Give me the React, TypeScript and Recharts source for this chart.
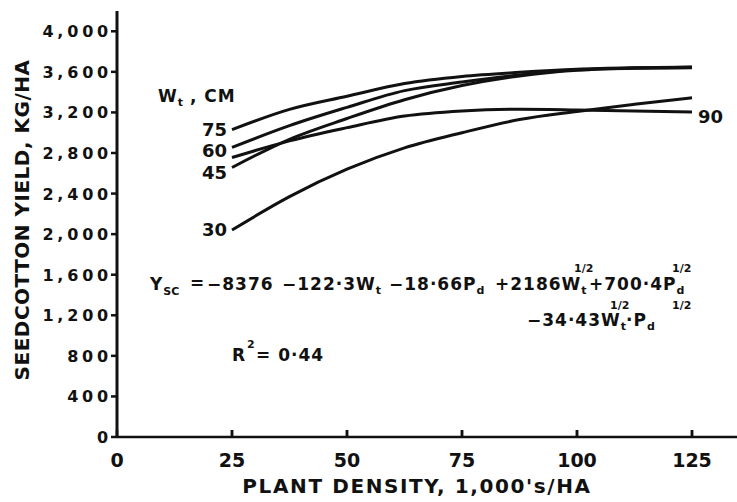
import React from 'react'
import { LineChart, Line, XAxis, YAxis } from 'recharts'

// plant density, 1,000's/ha
const densities = [25, 37.5, 50, 62.5, 75, 87.5, 100, 112.5, 125]

// seedcotton yield (kg/ha) per row width Wt (cm)
const yieldW30 = [2040, 2370, 2640, 2850, 3000, 3130, 3210, 3280, 3345]
const yieldW45 = [2657, 2935, 3140, 3325, 3465, 3560, 3615, 3635, 3640]
const yieldW60 = [2855, 3070, 3250, 3415, 3500, 3570, 3620, 3638, 3645]
const yieldW75 = [3030, 3230, 3360, 3485, 3555, 3595, 3625, 3640, 3648]
const yieldW90 = [2755, 2920, 3050, 3165, 3215, 3232, 3225, 3215, 3205]

const xTicks = [0, 25, 50, 75, 100, 125]
const topTicks = [25, 50, 75, 100, 125]
const yTicks = [0, 400, 800, 1200, 1600, 2000, 2400, 2800, 3200, 3600, 4000]

const data = densities.map((d, i) => ({
  density: d,
  w30: yieldW30[i],
  w45: yieldW45[i],
  w60: yieldW60[i],
  w75: yieldW75[i],
  w90: yieldW90[i],
}))

const INK = '#111'
const FONT = '"DejaVu Sans", sans-serif'

// y here sits on the axis line (tickSize -7 + tickMargin 7)
function BottomTick({ x, y, payload }: any) {
  return (
    <g>
      {payload.value !== 0 && <line x1={x} x2={x} y1={y} y2={y - 7} stroke={INK} strokeWidth={2.5} />}
      <text x={x} y={y + 30} textAnchor="middle" fill={INK} fontFamily={FONT} fontWeight={700} fontSize={19}>
        {payload.value}
      </text>
    </g>
  )
}

function LeftTick({ x, y, payload }: any) {
  return (
    <text x={x + 3} y={y + 6} textAnchor="end" fill={INK} fontFamily={FONT} fontWeight={700} fontSize={16} letterSpacing={3.8}>
      {Number(payload.value).toLocaleString('en-US')}
    </text>
  )
}

// label drawn at the first (or last) point of a curve
const curveLabel = (text: string, atEnd: boolean, dy: number) => (props: any) => {
  const { x, y, index } = props
  const want = atEnd ? densities.length - 1 : 0
  if (index !== want) return <g />
  return (
    <text
      x={atEnd ? x + 6 : x - 5}
      y={y + dy + 6}
      textAnchor={atEnd ? 'start' : 'end'}
      fill={INK}
      fontFamily={FONT}
      fontWeight={700}
      fontSize={18}
    >
      {text}
    </text>
  )
}

const sub = { fontSize: 11, letterSpacing: 0 }

export default function App() {
  return (
    <div style={{ position: 'fixed', left: 0, top: 0, width: 737, height: 502, overflow: 'hidden', background: '#fff' }}>
      <LineChart width={745} height={502} data={data} margin={{ top: 11, right: 7, bottom: 35, left: 0 }}>
        <XAxis
          dataKey="density"
          type="number"
          domain={[0, 135]}
          ticks={xTicks}
          height={30}
          tickSize={-7}
          tickMargin={7}
          tick={<BottomTick />}
          tickLine={{ stroke: INK, strokeWidth: 2.5 }}
          axisLine={{ stroke: INK, strokeWidth: 2.5 }}
        />
        <XAxis
          xAxisId="top"
          orientation="top"
          type="number"
          domain={[0, 135]}
          ticks={topTicks}
          height={0}
          mirror
          tickSize={6}
          tickFormatter={() => ''}
          tickLine={{ stroke: INK, strokeWidth: 2.5 }}
          axisLine={{ stroke: INK, strokeWidth: 2 }}
        />
        <YAxis
          type="number"
          domain={[0, 4200]}
          ticks={yTicks}
          width={117}
          tickSize={6}
          tickMargin={2}
          tick={<LeftTick />}
          tickLine={{ stroke: INK, strokeWidth: 2.5 }}
          axisLine={{ stroke: INK, strokeWidth: 3 }}
        />
        <YAxis
          yAxisId="right"
          orientation="right"
          type="number"
          domain={[0, 4200]}
          ticks={yTicks}
          width={0}
          mirror
          tickSize={4}
          tickFormatter={() => ''}
          tickLine={{ stroke: INK, strokeWidth: 2 }}
          axisLine={{ stroke: INK, strokeWidth: 2 }}
        />
        <Line dataKey="w30" type="monotone" stroke={INK} strokeWidth={3} dot={false} isAnimationActive={false} label={curveLabel('30', false, 0)} />
        <Line dataKey="w45" type="monotone" stroke={INK} strokeWidth={3} dot={false} isAnimationActive={false} label={curveLabel('45', false, 5)} />
        <Line dataKey="w60" type="monotone" stroke={INK} strokeWidth={3} dot={false} isAnimationActive={false} label={curveLabel('60', false, 4)} />
        <Line dataKey="w75" type="monotone" stroke={INK} strokeWidth={3} dot={false} isAnimationActive={false} label={curveLabel('75', false, 0)} />
        <Line dataKey="w90" type="monotone" stroke={INK} strokeWidth={3} dot={false} isAnimationActive={false} label={curveLabel('90', true, 5)} />
      </LineChart>

      <svg width={737} height={502} style={{ position: 'absolute', left: 0, top: 0, pointerEvents: 'none' }}>
        <g fill={INK} fontFamily={FONT} fontWeight={700}>
          <text transform="translate(29,220) rotate(-90)" textAnchor="middle" fontSize={20} letterSpacing={0.5}>
            SEEDCOTTON YIELD, KG/HA
          </text>
          <text x={417} y={493} textAnchor="middle" fontSize={20} letterSpacing={1.6}>
            PLANT DENSITY, 1,000's/HA
          </text>

          <text x={158} y={102} fontSize={17} letterSpacing={1}>
            W<tspan dy={4} style={sub}>t</tspan>
            <tspan dy={-4}> , CM</tspan>
          </text>

          <g fontSize={17} letterSpacing={1}>
            <text x={150} y={290}>Y<tspan dy={5} style={sub}>SC</tspan></text>
            <text x={190} y={289}>=</text>
            <text x={207} y={290}>−8376</text>
            <text x={282} y={290}>−122·3W<tspan dy={4} style={sub}>t</tspan></text>
            <text x={389} y={290}>−18·66P<tspan dy={4} style={sub}>d</tspan></text>
            <text x={495} y={290}>+2186W<tspan dy={4} style={sub}>t</tspan></text>
            <text x={574} y={272} style={sub}>1/2</text>
            <text x={589} y={290}>+700·4P<tspan dy={4} style={sub}>d</tspan></text>
            <text x={672} y={272} style={sub}>1/2</text>

            <text x={527} y={326}>−34·43W<tspan dy={4} style={sub}>t</tspan></text>
            <text x={610} y={309} style={sub}>1/2</text>
            <text x={626} y={326}>·P<tspan dy={4} style={sub}>d</tspan></text>
            <text x={672} y={309} style={sub}>1/2</text>

            <text x={232} y={361}>R</text>
            <text x={247} y={348} style={sub}>2</text>
            <text x={256} y={361}>= 0·44</text>
          </g>
        </g>
      </svg>
    </div>
  )
}
